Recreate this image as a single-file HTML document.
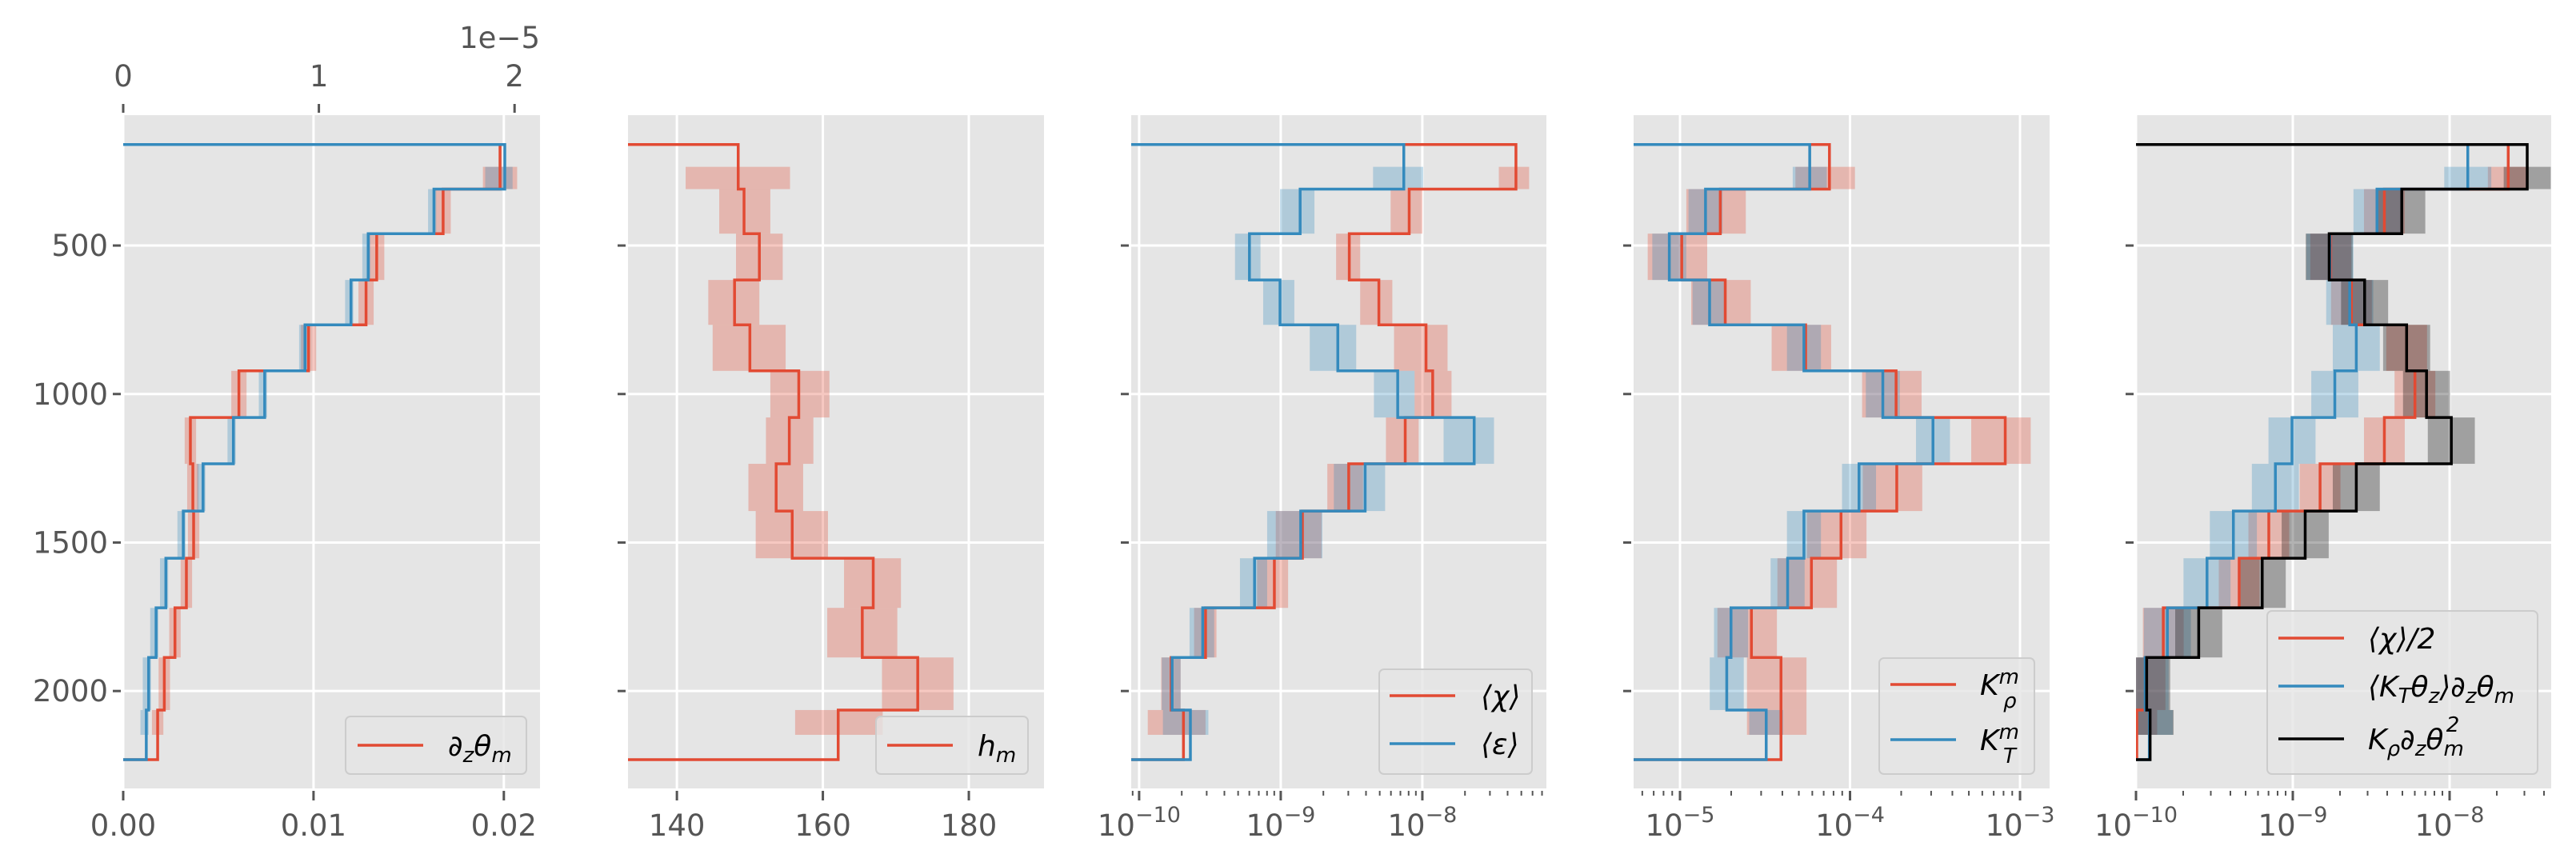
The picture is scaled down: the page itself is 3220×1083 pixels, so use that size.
<!DOCTYPE html>
<html><head><meta charset="utf-8">
<style>
html,body{margin:0;padding:0;background:#fff;}
svg{display:block;}
text{font-family:"DejaVu Sans","Liberation Sans",sans-serif;}
</style></head>
<body>
<svg id="chart" xmlns="http://www.w3.org/2000/svg" width="3220" height="1083" viewBox="0 0 3220 1083"></svg>
<script>
// ---------- data ----------
const depthEdges = [160,310,460,616,767,922,1079,1235,1394,1553,1720,1887,2064,2231];
// panel 1
const p1Red = [0.0198,0.01681,0.01332,0.01276,0.00974,0.00608,0.00353,0.00366,0.0037,0.00332,0.00272,0.00216,0.00181];
const p1Blue = [1.95,1.588,1.252,1.164,0.929,0.723,0.563,0.408,0.307,0.218,0.168,0.13,0.118]; // x1e-5
const p1RedErr = [0.0009,0.0004,0.0004,0.0004,0.0004,0.0004,0.0003,0.0003,0.0003,0.0003,0.0003,0.0003,0.0003];
const p1BlueErr = [0.1,0.03,0.03,0.03,0.03,0.03,0.03,0.03,0.03,0.03,0.03,0.03,0.03];
// panel 2
const p2Red = [148.4,149.2,151.3,147.9,150.0,156.7,155.4,153.6,155.8,166.9,165.4,173.0,162.1];
const p2Lo = [141.2,145.8,148.1,144.3,144.9,152.8,152.2,149.8,150.8,162.9,160.6,168.1,156.2];
const p2Hi = [155.5,152.8,154.5,151.3,154.9,160.9,158.7,157.3,160.7,170.7,170.2,177.9,168.2];
// panel 3 (log10)
const p3Red = [-7.339,-8.093,-8.516,-8.307,-7.974,-7.927,-8.121,-8.52,-8.847,-9.045,-9.531,-9.774,-9.687];
const p3RedLo = [-7.46,-8.224,-8.609,-8.439,-8.2,-8.055,-8.257,-8.671,-9.035,-9.167,-9.612,-9.844,-9.939];
const p3RedHi = [-7.246,-8.0,-8.439,-8.212,-7.822,-7.794,-8.026,-8.419,-8.712,-8.948,-9.454,-9.707,-9.531];
const p3Blue = [-8.131,-8.863,-9.221,-9.005,-8.597,-8.174,-7.634,-8.404,-8.859,-9.185,-9.551,-9.767,-9.638];
const p3BlueLo = [-8.348,-9.005,-9.323,-9.124,-8.795,-8.342,-7.85,-8.625,-9.096,-9.288,-9.644,-9.84,-9.832];
const p3BlueHi = [-7.994,-8.762,-9.143,-8.904,-8.467,-8.055,-7.494,-8.263,-8.706,-9.096,-9.47,-9.707,-9.511];
// panel 4 (log10)
const p4Red = [-4.121,-4.763,-4.99,-4.734,-4.261,-3.729,-3.087,-3.725,-4.053,-4.227,-4.58,-4.406,-4.406];
const p4Blue = [-4.237,-4.85,-5.063,-4.826,-4.271,-3.807,-3.512,-3.947,-4.271,-4.367,-4.70,-4.725,-4.493];
// panel 5 (log10)
const p5Red = [-7.626,-8.416,-8.758,-8.626,-8.274,-8.221,-8.416,-8.826,-9.153,-9.342,-9.826,-9.942,-9.995];
const p5Blue = [-7.884,-8.463,-8.763,-8.637,-8.595,-8.732,-9.005,-9.111,-9.379,-9.547,-9.8,-9.942,-9.915];
const p5Black = [-7.505,-8.305,-8.768,-8.542,-8.274,-8.147,-7.989,-8.595,-8.921,-9.195,-9.6,-9.932,-9.91];
const yTicks = [500,1000,1500,2000];

// ---------- helpers ----------
const NS = "http://www.w3.org/2000/svg";
const svg = document.getElementById('chart');
function mk(tag, attrs, parent){ const e=document.createElementNS(NS,tag); for(const k in attrs) e.setAttribute(k,attrs[k]); (parent||svg).appendChild(e); return e; }
const TOP=144, BOT=986, D0=61, D1=2328;
function yS(d){ return TOP + (d-D0)/(D1-D0)*(BOT-TOP); }
const RED='#E24A33', BLUE='#348ABD', BLACK='#000000';
const defs = mk('defs',{});
let clipN=0;

function panelFrame(name, left, right, xs, xTicks, xLabels, minor, showY){
  const g = mk('g',{});
  
  
  const bg = mk('rect',{x:left,y:TOP,width:right-left,height:BOT-TOP,fill:'#E5E5E5'},g);
  
  
  yTicks.forEach(d=>{
    const y=yS(d);
    mk('line',{x1:left,x2:right,y1:y,y2:y,stroke:'#fff','stroke-width':3},g);
    const t = mk('line',{x1:left-13,x2:left-3,y1:y,y2:y,stroke:'#555','stroke-width':3},g);
    
    
    if(showY){
      const tx = mk('text',{x:left-19,y:y+13,'text-anchor':'end','font-size':37,fill:'#555'},g);
      tx.textContent = d;
      
      
    }
  });
  xTicks.forEach((v,i)=>{
    const x=xs(v);
    mk('line',{x1:x,x2:x,y1:TOP,y2:BOT,stroke:'#fff','stroke-width':3},g);
    mk('line',{x1:x,x2:x,y1:BOT+3,y2:BOT+15,stroke:'#555','stroke-width':3},g);
    const lab = xLabels[i];
    const tx = mk('text',{x:x,y:1045,'text-anchor':'middle','font-size':37,fill:'#555'},g);
    
    
    if(typeof lab==='string'){ tx.textContent=lab; }
    else {
      const a=mk('tspan',{},tx); a.textContent='10';
      const b=mk('tspan',{dy:-17,'font-size':27},tx); b.textContent='\u2212'+lab;
    }
  });
  if(minor){
    minor.forEach(v=>{
      const x=xs(v);
      if(x>=left-1 && x<=right+1) mk('line',{x1:x,x2:x,y1:BOT+3,y2:BOT+9,stroke:'#555','stroke-width':2},g);
    });
  }
  clipN++;
  const cp = mk('clipPath',{id:'clip'+clipN},defs);
  mk('rect',{x:left,y:TOP,width:right-left,height:BOT-TOP},cp);
  const inner = mk('g',{'clip-path':'url(#clip'+clipN+')'},g);
  
  
  return {g:g, inner:inner};
}
function logMinor(a,b){ const r=[]; for(let e=a;e<b;e++) for(let k=2;k<=9;k++) r.push(e+Math.log10(k)); return r; }
function boxes(g, xs, lo, hi, color, name, op){
  lo.forEach((l,i)=>{
    let d0=depthEdges[i], d1=depthEdges[i+1];
    if(i===0) d0=(d0+d1)/2;
    if(i===lo.length-1) d1=(d0+d1)/2;
    const x0=xs(l), x1=xs(hi[i]);
    const r = mk('rect',{x:Math.min(x0,x1),y:yS(d0),width:Math.abs(x1-x0),height:yS(d1)-yS(d0),fill:color,'fill-opacity':op||0.3},g);
    
    
  });
}
function step(g, xs, vals, left, color, name){
  let p='M'+left+','+yS(depthEdges[0]);
  vals.forEach((v,i)=>{ p+=' H'+xs(v)+' V'+yS(depthEdges[i+1]); });
  p+=' H'+left;
  const path = mk('path',{d:p,fill:'none',stroke:color,'stroke-width':3.5},g);
  
  
}
function legend(name, x, y, w, h, items, lineX, textX){
  const g = mk('g',{});
  
  
  mk('rect',{x:x,y:y,width:w,height:h,rx:6,fill:'#E5E5E5','fill-opacity':0.8,stroke:'#CCCCCC','stroke-width':2},g);
  items.forEach(it=>{
    const l = mk('line',{x1:lineX,x2:lineX+82,y1:it.y,y2:it.y,stroke:it.c,'stroke-width':3.5},g);
    
    
    const t = mk('text',{x:textX,y:it.y+13,'font-size':36,'font-style':'italic',fill:'#000'},g);
    
    
    it.parts.forEach(pp=>{
      const s=mk('tspan',pp.a||{},t); s.textContent=pp.t;
    });
  });
}
const sub=(t)=>({t:t,a:{'font-size':26,dy:8}});

// ---------- panel 1 ----------
(function(){
  const L=154,R=675;
  const xb=v=>L+v/0.0219*(R-L);
  const xt=v=>L+v/2.13*(R-L);
  const P=panelFrame('panel-stratification',L,R,xb,[0,0.01,0.02],['0.00','0.01','0.02'],null,true);
  const g=P.g, c=P.inner;
  [0,1,2].forEach(v=>{
    const x=xt(v);
    mk('line',{x1:x,x2:x,y1:TOP-14,y2:TOP-3,stroke:'#555','stroke-width':3},g);
    const t=mk('text',{x:x,y:108,'text-anchor':'middle','font-size':37,fill:'#555'},g);
    t.textContent=String(v);
    
    
  });
  const off=mk('text',{x:R,y:60,'text-anchor':'end','font-size':37,fill:'#555'},g);
  off.textContent='1e\u22125';
  
  
  boxes(c,xb,p1Red.map((v,i)=>v-p1RedErr[i]),p1Red.map((v,i)=>v+p1RedErr[i]),RED,'red-uncertainty-box');
  boxes(c,xt,p1Blue.map((v,i)=>v-p1BlueErr[i]),p1Blue.map((v,i)=>v+p1BlueErr[i]*0.4),BLUE,'blue-uncertainty-box');
  step(c,xb,p1Red,L,RED,'dz-theta-line');
  step(c,xt,p1Blue,L,BLUE,'blue-top-axis-line');
  legend('legend-panel1',432,896,226,72,[{y:932,c:RED,parts:[{t:'\u2202'},sub('z'),{t:'\u03B8',a:{dy:-8}},sub('m')]}],447,560);
})();
// ---------- panel 2 ----------
(function(){
  const L=785,R=1305;
  const xs=v=>L+(v-133.3)/(190.3-133.3)*(R-L);
  const P=panelFrame('panel-mixed-layer',L,R,xs,[140,160,180],['140','160','180'],null,false);
  boxes(P.inner,xs,p2Lo,p2Hi,RED,'hm-uncertainty-box');
  step(P.inner,xs,p2Red,L,RED,'hm-line');
  legend('legend-panel2',1095,896,190,72,[{y:932,c:RED,parts:[{t:'h'},sub('m')]}],1109,1222);
})();
// ---------- panel 3 ----------
(function(){
  const L=1414,R=1933;
  const xs=v=>L+(v+10.056)/(-7.124+10.056)*(R-L);
  const P=panelFrame('panel-chi-epsilon',L,R,xs,[-10,-9,-8],[10,9,8],logMinor(-11,-7),false);
  boxes(P.inner,xs,p3RedLo,p3RedHi,RED,'chi-uncertainty-box');
  boxes(P.inner,xs,p3BlueLo,p3BlueHi,BLUE,'epsilon-uncertainty-box');
  step(P.inner,xs,p3Red,L,RED,'chi-line');
  step(P.inner,xs,p3Blue,L,BLUE,'epsilon-line');
  legend('legend-panel3',1724,837,191,131,[
    {y:870,c:RED,parts:[{t:'\u27E8\u03C7\u27E9'}]},
    {y:930,c:BLUE,parts:[{t:'\u27E8\u03B5\u27E9'}]}],1737,1851);
})();
// ---------- panel 4 ----------
(function(){
  const L=2042,R=2562;
  const xs=v=>L+(v+5.273)/(-2.826+5.273)*(R-L);
  const P=panelFrame('panel-diffusivity',L,R,xs,[-5,-4,-3],[5,4,3],logMinor(-6,-2),false);
  boxes(P.inner,xs,p4Red.map(v=>v-0.2),p4Red.map(v=>v+0.15),RED,'krho-uncertainty-box');
  boxes(P.inner,xs,p4Blue.map(v=>v-0.1),p4Blue.map(v=>v+0.1),BLUE,'kt-uncertainty-box');
  step(P.inner,xs,p4Red,L,RED,'krho-line');
  step(P.inner,xs,p4Blue,L,BLUE,'kt-line');
  legend('legend-panel4',2349,823,194,145,[
    {y:856,c:RED,parts:[{t:'K'},{t:'m',a:{'font-size':26,dy:-14}},{t:'\u03C1',a:{'font-size':26,dx:-20,dy:30}}]},
    {y:925,c:BLUE,parts:[{t:'K'},{t:'m',a:{'font-size':26,dy:-14}},{t:'T',a:{'font-size':26,dx:-20,dy:30}}]}],2363,2475);
})();
// ---------- panel 5 ----------
(function(){
  const L=2670,R=3189;
  const xs=v=>L+(v+10)/(-7.352+10)*(R-L);
  const P=panelFrame('panel-variance-budget',L,R,xs,[-10,-9,-8],[10,9,8],logMinor(-10,-7),false);
  boxes(P.inner,xs,p5Red.map(v=>v-0.13),p5Red.map(v=>v+0.13),RED,'chi-half-uncertainty-box');
  boxes(P.inner,xs,p5Blue.map(v=>v-0.15),p5Blue.map(v=>v+0.15),BLUE,'kt-flux-uncertainty-box');
  boxes(P.inner,xs,p5Black.map(v=>v-0.15),p5Black.map(v=>v+0.15),BLACK,'krho-flux-uncertainty-box');
  step(P.inner,xs,p5Red,L,RED,'chi-half-line');
  step(P.inner,xs,p5Blue,L,BLUE,'kt-flux-line');
  step(P.inner,xs,p5Black,L,BLACK,'krho-flux-line');
  legend('legend-panel5',2834,764,338,204,[
    {y:798,c:RED,parts:[{t:'\u27E8\u03C7\u27E9/2'}]},
    {y:858,c:BLUE,parts:[{t:'\u27E8K'},sub('T'),{t:'\u03B8',a:{dy:-8}},sub('z'),{t:'\u27E9\u2202',a:{dy:-8}},sub('z'),{t:'\u03B8',a:{dy:-8}},sub('m')]},
    {y:924,c:BLACK,parts:[{t:'K'},sub('\u03C1'),{t:'\u2202',a:{dy:-8}},sub('z'),{t:'\u03B8',a:{dy:-8}},sub('m'),{t:'2',a:{'font-size':26,dx:-22,dy:-30}}]}],2848,2960);
})();
</script>
</body></html>
